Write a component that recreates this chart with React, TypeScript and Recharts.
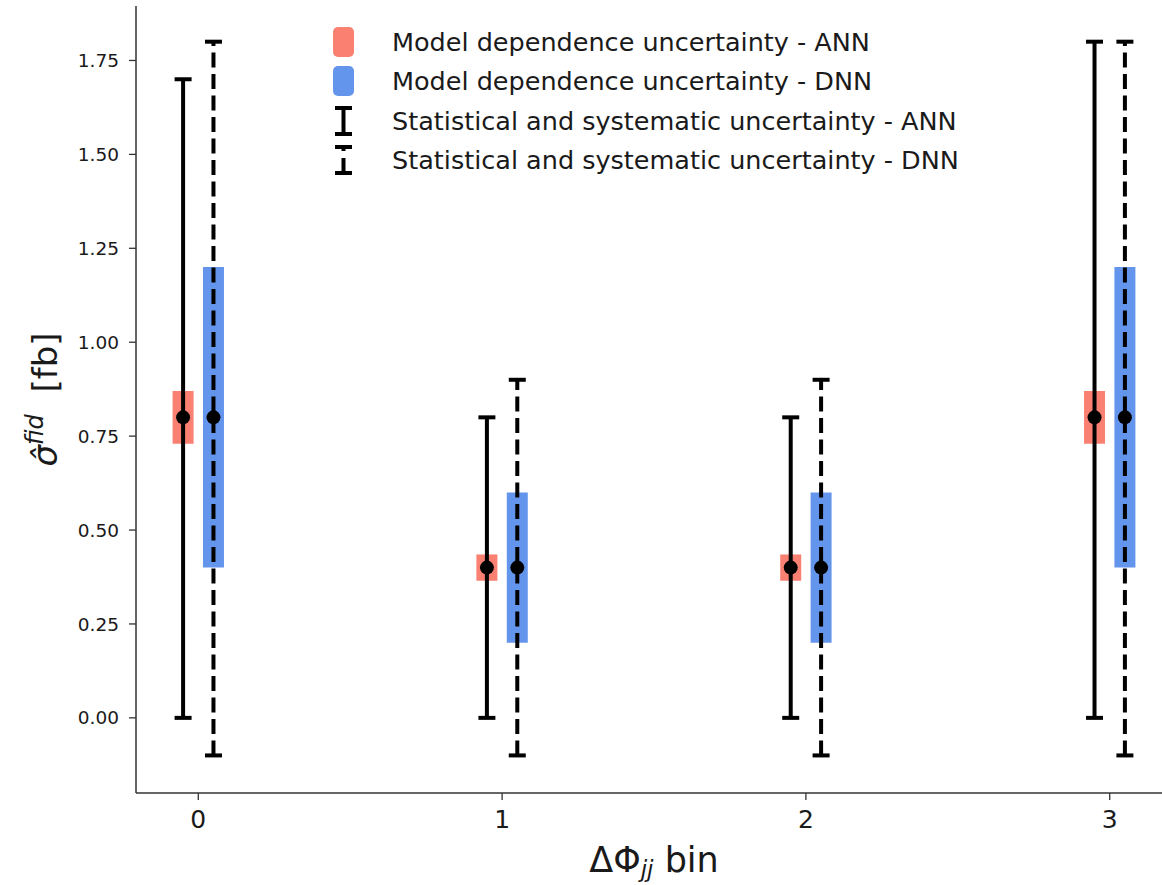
import { ComposedChart, Scatter, ErrorBar, XAxis, YAxis } from "recharts";

// ── data ────────────────────────────────────────────────────────────────────
const BINS = [0, 1, 2, 3];
const ANN_VALUE = [0.8, 0.4, 0.4, 0.8];
const DNN_VALUE = [0.8, 0.4, 0.4, 0.8];
const ANN_STAT_LOW = [0, 0, 0, 0];
const ANN_STAT_HIGH = [1.7, 0.8, 0.8, 1.8];
const DNN_STAT_LOW = [-0.1, -0.1, -0.1, -0.1];
const DNN_STAT_HIGH = [1.8, 0.9, 0.9, 1.8];
const ANN_MODEL_LOW = [0.73, 0.365, 0.365, 0.73];
const ANN_MODEL_HIGH = [0.87, 0.435, 0.435, 0.87];
const DNN_MODEL_LOW = [0.4, 0.2, 0.2, 0.4];
const DNN_MODEL_HIGH = [1.2, 0.6, 0.6, 1.2];
const X_TICKS = [0, 1, 2, 3];
const Y_TICKS = [0, 0.25, 0.5, 0.75, 1, 1.25, 1.5, 1.75];
const SHIFT = 0.05; // ANN drawn at bin - 0.05, DNN at bin + 0.05

const SALMON = "#fa8072";
const BLUE = "#6495ed";
const AXIS = "#333";
const TEXT = "#1a1a1a";
const FONT = "'DejaVu Sans', sans-serif";

const makeRows = (vals: number[], shift: number, sLo: number[], sHi: number[], mLo: number[], mHi: number[]) =>
  BINS.map((b, i) => ({
    x: b + shift,
    y: vals[i],
    stat: [vals[i] - sLo[i], sHi[i] - vals[i]],
    model: [vals[i] - mLo[i], mHi[i] - vals[i]],
  }));

const makeCaps = (shift: number, lo: number[], hi: number[]) =>
  BINS.flatMap((b, i) => [{ x: b + shift, y: lo[i] }, { x: b + shift, y: hi[i] }]);

const annRows = makeRows(ANN_VALUE, -SHIFT, ANN_STAT_LOW, ANN_STAT_HIGH, ANN_MODEL_LOW, ANN_MODEL_HIGH);
const dnnRows = makeRows(DNN_VALUE, SHIFT, DNN_STAT_LOW, DNN_STAT_HIGH, DNN_MODEL_LOW, DNN_MODEL_HIGH);
const caps = [...makeCaps(-SHIFT, ANN_STAT_LOW, ANN_STAT_HIGH), ...makeCaps(SHIFT, DNN_STAT_LOW, DNN_STAT_HIGH)];
const dots = [...annRows, ...dnnRows];

const LEGEND_ITEMS = [
  { kind: "patch", color: SALMON, label: "Model dependence uncertainty - ANN" },
  { kind: "patch", color: BLUE, label: "Model dependence uncertainty - DNN" },
  { kind: "solid", color: "#000", label: "Statistical and systematic uncertainty - ANN" },
  { kind: "dashed", color: "#000", label: "Statistical and systematic uncertainty - DNN" },
];

const Nothing = () => <g />;
const Cap = (p: any) => <line x1={p.cx - 8.5} x2={p.cx + 8.5} y1={p.cy} y2={p.cy} stroke="#000" strokeWidth={4} />;
const Dot = (p: any) => <circle cx={p.cx} cy={p.cy} r={7} fill="#000" />;

const Glyph = ({ kind, color }: { kind: string; color: string }) => {
  if (kind === "patch") {
    return (
      <svg width={24} height={32}><rect x={1} y={1} width={21} height={30} rx={5} fill={color} /></svg>
    );
  }
  return (
    <svg width={24} height={32}>
      <line x1={3} x2={20} y1={3} y2={3} stroke="#000" strokeWidth={4} />
      <line x1={3} x2={20} y1={29} y2={29} stroke="#000" strokeWidth={4} />
      {kind === "solid"
        ? <line x1={11.5} x2={11.5} y1={3} y2={29} stroke="#000" strokeWidth={4} />
        : <line x1={11.5} x2={11.5} y1={3} y2={29} stroke="#000" strokeWidth={4} strokeDasharray="4 7 15 20" />}
    </svg>
  );
};

const LegendBox = () => (
  <div style={{ position: "absolute", left: 332, top: 22, fontFamily: FONT, fontSize: 25.5, color: TEXT }}>
    {LEGEND_ITEMS.map((it) => (
      <div key={it.label} style={{ display: "flex", alignItems: "center", height: 39.5, whiteSpace: "nowrap" }}>
        <div style={{ width: 60, display: "flex" }}><Glyph kind={it.kind} color={it.color} /></div>
        <span>{it.label}</span>
      </div>
    ))}
  </div>
);

const XTitle = ({ viewBox }: any) => (
  <text x={viewBox.x + viewBox.width / 2} y={viewBox.y + 79} textAnchor="middle"
    fontFamily={FONT} fontSize={35} fill={TEXT}>
    ΔΦ<tspan fontStyle="italic" fontSize={23} dy={5}>jj</tspan><tspan dy={-5}> bin</tspan>
  </text>
);

const YTitle = ({ viewBox }: any) => {
  const cx = 57;
  const cy = viewBox.y + viewBox.height / 2;
  return (
    <text x={cx} y={cy} transform={`rotate(-90, ${cx}, ${cy})`} textAnchor="middle"
      fontFamily={FONT} fontSize={34} fill={TEXT}>
      <tspan fontStyle="italic">σ̂</tspan>
      <tspan fontStyle="italic" fontSize={24} dy={-14}>fid</tspan>
      <tspan dy={14}>{"\u00a0\u00a0[fb]"}</tspan>
    </text>
  );
};

export default function App() {
  return (
    <div style={{ position: "absolute", left: 0, top: 0, width: 1162, height: 885, overflow: "hidden", background: "#fff" }}>
      <ComposedChart width={1200} height={885} margin={{ top: 6, right: 28, left: 76, bottom: 42 }}>
        <XAxis xAxisId="top" orientation="top" type="number" domain={[0, 1]} tick={false} tickLine={false}
          height={0} axisLine={{ stroke: AXIS, strokeWidth: 1.5 }} />
        <XAxis type="number" dataKey="x" domain={[-0.205, 3.205]} ticks={X_TICKS} allowDataOverflow
          height={50} tickSize={7} tickMargin={10} tickLine={{ stroke: AXIS, strokeWidth: 1.3 }}
          axisLine={{ stroke: AXIS, strokeWidth: 1.5 }}
          tick={{ fontSize: 25, fill: TEXT, fontFamily: FONT }} label={<XTitle />} />
        <YAxis type="number" dataKey="y" domain={[-0.2, 1.895]} ticks={Y_TICKS} allowDataOverflow
          width={60} tickSize={7} tickMargin={10} tickLine={{ stroke: AXIS, strokeWidth: 1.3 }}
          axisLine={{ stroke: AXIS, strokeWidth: 1.5 }}
          tickFormatter={(v: number) => v.toFixed(2)} tick={{ fontSize: 18.5, fill: TEXT, fontFamily: FONT }}
          label={<YTitle />} />

        <Scatter data={annRows} shape={Nothing} isAnimationActive={false} legendType="none">
          <ErrorBar dataKey="model" direction="y" width={0} stroke={SALMON} strokeWidth={21} isAnimationActive={false} />
        </Scatter>
        <Scatter data={dnnRows} shape={Nothing} isAnimationActive={false} legendType="none">
          <ErrorBar dataKey="model" direction="y" width={0} stroke={BLUE} strokeWidth={21} isAnimationActive={false} />
        </Scatter>
        <Scatter data={annRows} shape={Nothing} isAnimationActive={false} legendType="none">
          <ErrorBar dataKey="stat" direction="y" width={0} stroke="#000" strokeWidth={4} isAnimationActive={false} />
        </Scatter>
        <Scatter data={dnnRows} shape={Nothing} isAnimationActive={false} legendType="none">
          <ErrorBar dataKey="stat" direction="y" width={0} stroke="#000" strokeWidth={4} strokeDasharray="15 6.5"
            isAnimationActive={false} />
        </Scatter>
        <Scatter data={caps} shape={Cap} isAnimationActive={false} legendType="none" />
        <Scatter data={dots} shape={Dot} isAnimationActive={false} legendType="none" />
      </ComposedChart>
      <LegendBox />
    </div>
  );
}
